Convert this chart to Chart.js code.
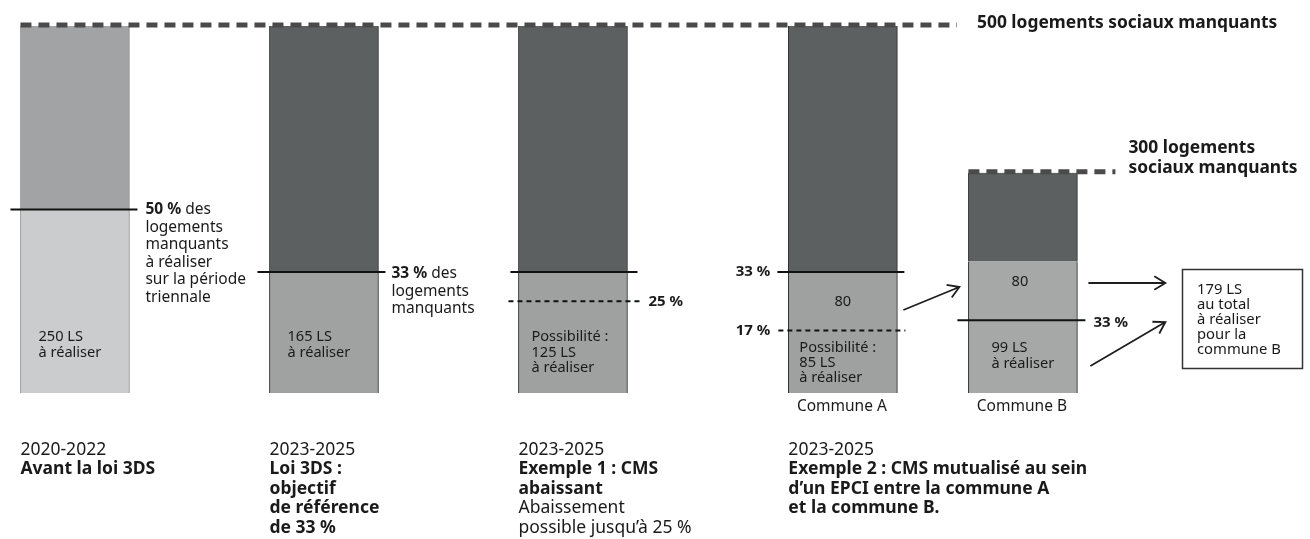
<!DOCTYPE html>
<html lang="fr">
<head>
<meta charset="utf-8">
<title>Logements sociaux manquants</title>
<script src="https://cdn.jsdelivr.net/npm/chart.js@4/dist/chart.umd.min.js"></script>
<style>
    html, body { margin: 0; padding: 0; background: #fff; }
    #wrap { position: relative; width: 1310px; height: 539px; }
</style>
</head>
<body>
<div id="wrap"><canvas id="chart"></canvas></div>
<script>
// positions of the bars along the x axis (in bar spacings)
const barPos = [0, 1, 2, 3.084, 3.807];
const manquants = [500, 500, 500, 500, 300];
const aRealiser = [250, 165, 165, 165, 179];
const reste = [250, 335, 335, 335, 121];
const seuil = [250, 165, 165, 165, 99];          // solid line
const seuilBas = [null, null, 125, 85, null];     // dashed line
const periodes = ['2020-2022', '2023-2025', '2023-2025', '2023-2025'];
const titres = [
    [['Avant la loi 3DS', true]],
    [['Loi 3DS :', true], ['objectif', true], ['de référence', true], ['de 33 %', true]],
    [['Exemple 1 : CMS', true], ['abaissant', true], ['Abaissement', false], ['possible jusqu\u2019à 25 %', false]],
    [['Exemple 2 : CMS mutualisé au sein', true], ['d\u2019un EPCI entre la commune A', true], ['et la commune B.', true]],
];
const barTexts = [
    ['250 LS', 'à réaliser'],
    ['165 LS', 'à réaliser'],
    ['Possibilité :', '125 LS', 'à réaliser'],
    ['Possibilité :', '85 LS', 'à réaliser'],
    ['99 LS', 'à réaliser'],
];
const communes = [null, null, null, 'Commune A', 'Commune B'];
const boxLines = ['179 LS', 'au total', 'à réaliser', 'pour la', 'commune B'];

const lowerColors = ['#cbcccd', '#a0a2a2', '#9fa1a1', '#9fa1a1', '#a6a8a8'];
const upperColors = ['#a2a3a4', '#5c6060', '#5c6060', '#5c6060', '#5c6060'];
const edgeColors = ['#8c8c8c', '#222', '#222', '#222', '#222'];
const FONT = '"Noto Sans", "Open Sans", sans-serif';
const BAR_W = 109;

function dashLine(ctx, x1, y1, x2, y2, width, dash, color) {
    ctx.save();
    ctx.strokeStyle = color;
    ctx.lineWidth = width;
    ctx.setLineDash(dash);
    ctx.beginPath();
    ctx.moveTo(x1, y1);
    ctx.lineTo(x2, y2);
    ctx.stroke();
    ctx.restore();
}

function arrow(ctx, x1, y1, x2, y2) {
    const a = Math.atan2(y2 - y1, x2 - x1);
    ctx.save();
    ctx.strokeStyle = '#1e1e1e';
    ctx.lineWidth = 1.8;
    ctx.beginPath();
    ctx.moveTo(x1, y1);
    ctx.lineTo(x2, y2);
    ctx.moveTo(x2 - 13 * Math.cos(a - 0.55), y2 - 13 * Math.sin(a - 0.55));
    ctx.lineTo(x2, y2);
    ctx.lineTo(x2 - 13 * Math.cos(a + 0.55), y2 - 13 * Math.sin(a + 0.55));
    ctx.stroke();
    ctx.restore();
}

function text(ctx, str, x, y, size, weight, align) {
    ctx.font = `${weight} ${size}px ${FONT}`;
    ctx.textAlign = align || 'left';
    ctx.textBaseline = 'middle';
    ctx.fillStyle = '#1a1a1a';
    ctx.fillText(str, x, y);
    return ctx.measureText(str).width;
}

const annotations = {
    id: 'annotations',
    afterDatasetsDraw(chart) {
        const { ctx, scales: { x, y } } = chart;
        const L = barPos.map(p => x.getPixelForValue(p) - BAR_W / 2);
        const R = L.map(l => l + BAR_W);
        const C = barPos.map(p => x.getPixelForValue(p));

        // top dashed lines (missing housing)
        dashLine(ctx, L[0], y.getPixelForValue(500) - 1, 957, y.getPixelForValue(500) - 1, 5, [11, 7], '#4a4a4a');
        dashLine(ctx, L[4], y.getPixelForValue(300) - 1, R[4] + 38, y.getPixelForValue(300) - 1, 5, [11, 7], '#4a4a4a');
        text(ctx, '500 logements sociaux manquants', 977, y.getPixelForValue(500) - 3, 17.4, 'bold');
        text(ctx, '300 logements', R[4] + 51, y.getPixelForValue(300) - 25, 17.4, 'bold');
        text(ctx, 'sociaux manquants', R[4] + 51, y.getPixelForValue(300) - 5, 17.4, 'bold');

        // solid threshold lines
        const ext = [[10, 8], [12, 7], [8, 10], [11, 7], [11, 8]];
        seuil.forEach((v, i) => {
            const py = y.getPixelForValue(v);
            dashLine(ctx, L[i] - ext[i][0], py, R[i] + ext[i][1], py, 2, [], '#111');
        });
        seuilBas.forEach((v, i) => {
            if (v === null) return;
            const py = y.getPixelForValue(v);
            dashLine(ctx, L[i] - 10, py, R[i] + (i === 2 ? 14 : 8), py, 2, [5, 4], '#111');
        });

        // notes next to the lines
        let py = y.getPixelForValue(seuil[0]);
        let w = text(ctx, '50 %', R[0] + 16, py, 15.5, 'bold');
        text(ctx, ' des', R[0] + 16 + w, py, 15.5, 'normal');
        ['logements', 'manquants', 'à réaliser', 'sur la période', 'triennale'].forEach((s, k) =>
            text(ctx, s, R[0] + 16, py + 17.6 * (k + 1), 15.5, 'normal'));

        py = y.getPixelForValue(seuil[1]);
        w = text(ctx, '33 %', R[1] + 13, py + 2, 15.5, 'bold');
        text(ctx, ' des', R[1] + 13 + w, py + 2, 15.5, 'normal');
        ['logements', 'manquants'].forEach((s, k) =>
            text(ctx, s, R[1] + 13, py + 2 + 17.5 * (k + 1), 15.5, 'normal'));

        text(ctx, '25 %', R[2] + 21, y.getPixelForValue(seuilBas[2]), 15, 'bold');
        text(ctx, '33 %', L[3] - 18, y.getPixelForValue(seuil[3]), 15, 'bold', 'right');
        text(ctx, '17 %', L[3] - 18, y.getPixelForValue(seuilBas[3]), 15, 'bold', 'right');
        text(ctx, '33 %', R[4] + 16, y.getPixelForValue(seuil[4]) + 2, 15, 'bold');

        // labels inside the bars
        const textTop = [337, 337, 337, 348, 348];
        const step = [16, 16, 15.5, 15, 16];
        const indent = [18, 18, 13, 11, 23];
        barTexts.forEach((lines, i) => {
            lines.forEach((s, k) => text(ctx, s, L[i] + indent[i], textTop[i] + step[i] * k, 14.6, 'normal'));
        });
        text(ctx, '80', C[3], y.getPixelForValue(125) + 1, 14.6, 'normal', 'center');
        text(ctx, '80', C[4] - 3, y.getPixelForValue(152), 14.6, 'normal', 'center');

        // commune names
        communes.forEach((s, i) => {
            if (s) text(ctx, s, C[i] - 1, y.getPixelForValue(0) + 14, 15.5, 'normal', 'center');
        });

        // period labels
        periodes.forEach((p, i) => {
            const by = 450;
            text(ctx, p, L[i], by, 17.5, 'normal');
            titres[i].forEach(([s, bold], k) => text(ctx, s, L[i], by + 19.5 * (k + 1), 17.5, bold ? 'bold' : 'normal'));
        });

        // arrows
        arrow(ctx, R[3] + 6, 310, L[4] - 9, 287);
        arrow(ctx, R[4] + 11, 283, R[4] + 88, 283);
        arrow(ctx, R[4] + 13, 366, R[4] + 88, 322);

        // total box
        ctx.save();
        ctx.strokeStyle = '#333';
        ctx.lineWidth = 1.5;
        ctx.strokeRect(1182.5, 269.5, 120, 99);
        ctx.restore();
        boxLines.forEach((s, k) => text(ctx, s, 1197, 290 + 15 * k, 14.8, 'normal'));
    }
};

new Chart(document.getElementById('chart'), {
    type: 'bar',
    data: {
        datasets: [
            {
                label: 'LS à réaliser',
                data: barPos.map((p, i) => ({ x: p, y: aRealiser[i] })),
                backgroundColor: lowerColors,
                borderColor: edgeColors,
                borderWidth: { left: 1, right: 1, top: 0, bottom: 0 },
                barThickness: BAR_W,
                stack: 'ls',
            },
            {
                label: 'Logements manquants restants',
                data: barPos.map((p, i) => ({ x: p, y: reste[i] })),
                backgroundColor: upperColors,
                borderColor: edgeColors,
                borderWidth: { left: 1, right: 1, top: 0, bottom: 0 },
                barThickness: BAR_W,
                stack: 'ls',
            },
        ],
    },
    options: {
        responsive: true,
        maintainAspectRatio: false,
        animation: false,
        layout: { padding: { top: 26, bottom: 146, left: 0, right: 0 } },
        scales: {
            x: { type: 'linear', min: -0.301, max: 4.96, offset: false, stacked: true, display: false },
            y: { min: 0, max: 500, stacked: true, display: false },
        },
        plugins: {
            legend: { display: false },
            tooltip: { enabled: false },
        },
    },
    plugins: [annotations],
});
</script>
</body>
</html>
